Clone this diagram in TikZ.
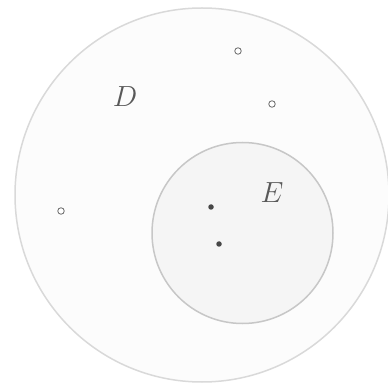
\documentclass[tikz,border=0pt]{standalone}
\usepackage{graphicx}
\newcommand{\biglabel}[1]{\scalebox{1.17}{\Huge$#1$}}
\begin{document}
\begin{tikzpicture}[x=1pt,y=-1pt,
  outerset/.style={circle,draw=black!15,fill=black!1,line width=1.5pt,minimum size=374pt,inner sep=0pt},
  innerset/.style={circle,draw=black!22,fill=black!4,line width=1.5pt,minimum size=181pt,inner sep=0pt},
  openpt/.style={circle,draw=black!60,fill=white,line width=0.8pt,minimum size=6.5pt,inner sep=0pt},
  fullpt/.style={circle,fill=black!72,minimum size=5.5pt,inner sep=0pt},
  setlabel/.style={text=black!65}]
\useasboundingbox (0,0) rectangle (388,387);
\node[outerset] (D) at (202,195) {};
\node[innerset] (E) at (242.5,233) {};
\node[openpt] (p1) at (238,51) {};
\node[openpt] (p2) at (272,104) {};
\node[openpt] (p3) at (61,211) {};
\node[fullpt] (q1) at (211,207) {};
\node[fullpt] (q2) at (219,244) {};
\node[setlabel] (Dl) at (125,97) {\biglabel{D}};
\node[setlabel] (El) at (272,193) {\biglabel{E}};
\end{tikzpicture}
\end{document}
